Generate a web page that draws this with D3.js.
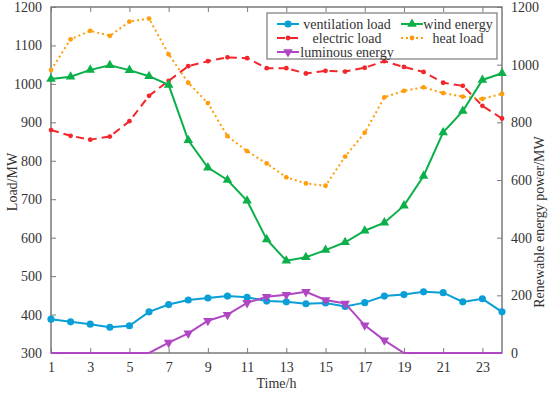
<!DOCTYPE html>
<html>
<head>
<meta charset="utf-8">
<script src="https://cdn.jsdelivr.net/npm/d3@7"></script>
<style>
  body { margin: 0; background: #fff; }
  text { font-family: "Liberation Serif", "Times New Roman", serif; fill: #333; }
</style>
</head>
<body>
<svg width="550" height="393"></svg>
<script>
const hours = d3.range(1, 25);
const ventilationLoad = [388, 381, 375, 367, 371, 407, 426, 438, 443, 448, 445, 435, 433, 428, 430, 421, 431, 448, 452, 459, 457, 433, 441, 407];
const electricLoad = [880, 865, 855, 863, 903, 969, 1008, 1046, 1059, 1069, 1067, 1041, 1041, 1027, 1034, 1032, 1042, 1059, 1044, 1031, 1003, 995, 943, 910];
const heatLoad = [1036, 1116, 1138, 1125, 1162, 1170, 1077, 1003, 950, 864, 825, 793, 757, 741, 735, 811, 873, 965, 982, 991, 976, 967, 961, 974];
const windEnergy = [950, 958, 982, 998, 981, 960, 930, 738, 643, 600, 528, 394, 320, 332, 357, 384, 424, 452, 511, 614, 765, 839, 947, 970];
const luminousEnergy = [0, 0, 0, 0, 0, 0, 36, 68, 112, 133, 174, 195, 202, 212, 184, 172, 96, 44, 0, 0, 0, 0, 0, 0];
const xTicks = [1, 3, 5, 7, 9, 11, 13, 15, 17, 19, 21, 23];
const leftTicks = d3.range(300, 1201, 100);
const rightTicks = d3.range(0, 1201, 200);

const svg = d3.select("svg");
const plotL = 51, plotR = 502, plotT = 7, plotB = 353;
const axisColor = "#7a7a7a";

const x = d3.scaleLinear().domain([1, 24]).range([plotL, plotR]);
const yL = d3.scaleLinear().domain([300, 1200]).range([plotB, plotT]);
const yR = d3.scaleLinear().domain([0, 1200]).range([plotB, plotT]);

// frame
svg.append("rect")
    .attr("x", plotL).attr("y", plotT)
    .attr("width", plotR - plotL).attr("height", plotB - plotT)
    .attr("fill", "none").attr("stroke", axisColor).attr("stroke-width", 1.5);

const styleAxis = g => {
    g.select(".domain").remove();
    g.selectAll(".tick line").attr("stroke", axisColor);
    g.selectAll(".tick text").attr("font-size", 14).attr("fill", "#333")
        .attr("font-family", "Liberation Serif, serif");
};

svg.append("g").attr("transform", `translate(0,${plotB})`)
    .call(d3.axisBottom(x).tickValues(xTicks).tickSizeInner(-5).tickPadding(9).tickFormat(d3.format("d")))
    .call(styleAxis);
svg.append("g").attr("transform", `translate(0,${plotT})`)
    .call(d3.axisTop(x).tickValues(xTicks).tickSizeInner(-5).tickFormat(""))
    .call(styleAxis);
svg.append("g").attr("transform", `translate(${plotL},0)`)
    .call(d3.axisLeft(yL).tickValues(leftTicks).tickSizeInner(-5).tickPadding(9).tickFormat(d3.format("d")))
    .call(styleAxis);
svg.append("g").attr("transform", `translate(${plotR},0)`)
    .call(d3.axisRight(yR).tickValues(rightTicks).tickSizeInner(-5).tickPadding(9).tickFormat(d3.format("d")))
    .call(styleAxis);

// axis titles
svg.append("text").attr("x", (plotL + plotR) / 2).attr("y", 388)
    .attr("text-anchor", "middle").attr("font-size", 14).text("Time/h");
svg.append("text").attr("transform", "translate(17,182) rotate(-90)")
    .attr("text-anchor", "middle").attr("font-size", 14).text("Load/MW");
svg.append("text").attr("transform", "translate(544,222) rotate(-90)")
    .attr("text-anchor", "middle").attr("font-size", 14).text("Renewable energy power/MW");

const series = [
    {name: "electric load", values: electricLoad, y: yL, color: "#f2262b", dash: "8,5", marker: "dot"},
    {name: "heat load", values: heatLoad, y: yL, color: "#ff9d0a", dash: "2,3", marker: "dot"},
    {name: "wind energy", values: windEnergy, y: yR, color: "#0bb04a", dash: null, marker: "up"},
    {name: "ventilation load", values: ventilationLoad, y: yL, color: "#0a9fd6", dash: null, marker: "circle"},
    {name: "luminous energy", values: luminousEnergy, y: yR, color: "#b146c4", dash: null, marker: "down"}
];

const symbolFor = m => {
    if (m === "circle") return d3.symbol(d3.symbolCircle, 40)();
    if (m === "dot") return d3.symbol(d3.symbolCircle, 18)();
    return d3.symbol(d3.symbolTriangle, 40)();
};

series.forEach(s => {
    const pts = hours.map((h, i) => ({h, v: s.values[i]}));
    const line = d3.line().x(d => x(d.h)).y(d => s.y(d.v));
    svg.append("path")
        .attr("d", line(pts))
        .attr("fill", "none")
        .attr("stroke", s.color)
        .attr("stroke-width", 2)
        .attr("stroke-dasharray", s.dash);
    const mk = s.marker === "down" ? pts.filter(d => d.v > 0) : pts;
    svg.selectAll(null).data(mk).enter().append("path")
        .attr("d", symbolFor(s.marker))
        .attr("transform", d => `translate(${x(d.h)},${s.y(d.v)})${s.marker === "down" ? " rotate(180)" : ""}`)
        .attr("fill", s.color);
});

// legend
const lg = svg.append("g");
lg.append("rect").attr("x", 267).attr("y", 13).attr("width", 230).attr("height", 46)
    .attr("fill", "#fff").attr("stroke", axisColor).attr("stroke-width", 1.2);
const legendItems = [
    {s: series[3], col: 0, row: 0},
    {s: series[2], col: 1, row: 0},
    {s: series[0], col: 0, row: 1},
    {s: series[1], col: 1, row: 1},
    {s: series[4], col: 0, row: 2}
];
const colX = [{x0: 277, x1: 299, tc: 347}, {x0: 401, x1: 423, tc: 458}];
legendItems.forEach(it => {
    const c = colX[it.col];
    const yy = 24 + it.row * 14;
    lg.append("line").attr("x1", c.x0).attr("x2", c.x1).attr("y1", yy).attr("y2", yy)
        .attr("stroke", it.s.color).attr("stroke-width", 2).attr("stroke-dasharray", it.s.dash);
    lg.append("path").attr("d", symbolFor(it.s.marker))
        .attr("transform", `translate(${(c.x0 + c.x1) / 2},${yy})${it.s.marker === "down" ? " rotate(180)" : ""}`)
        .attr("fill", it.s.color);
    lg.append("text").attr("x", c.tc).attr("y", yy + 4.5).attr("text-anchor", "middle")
        .attr("font-size", 14).text(it.s.name);
});
</script>
</body>
</html>
